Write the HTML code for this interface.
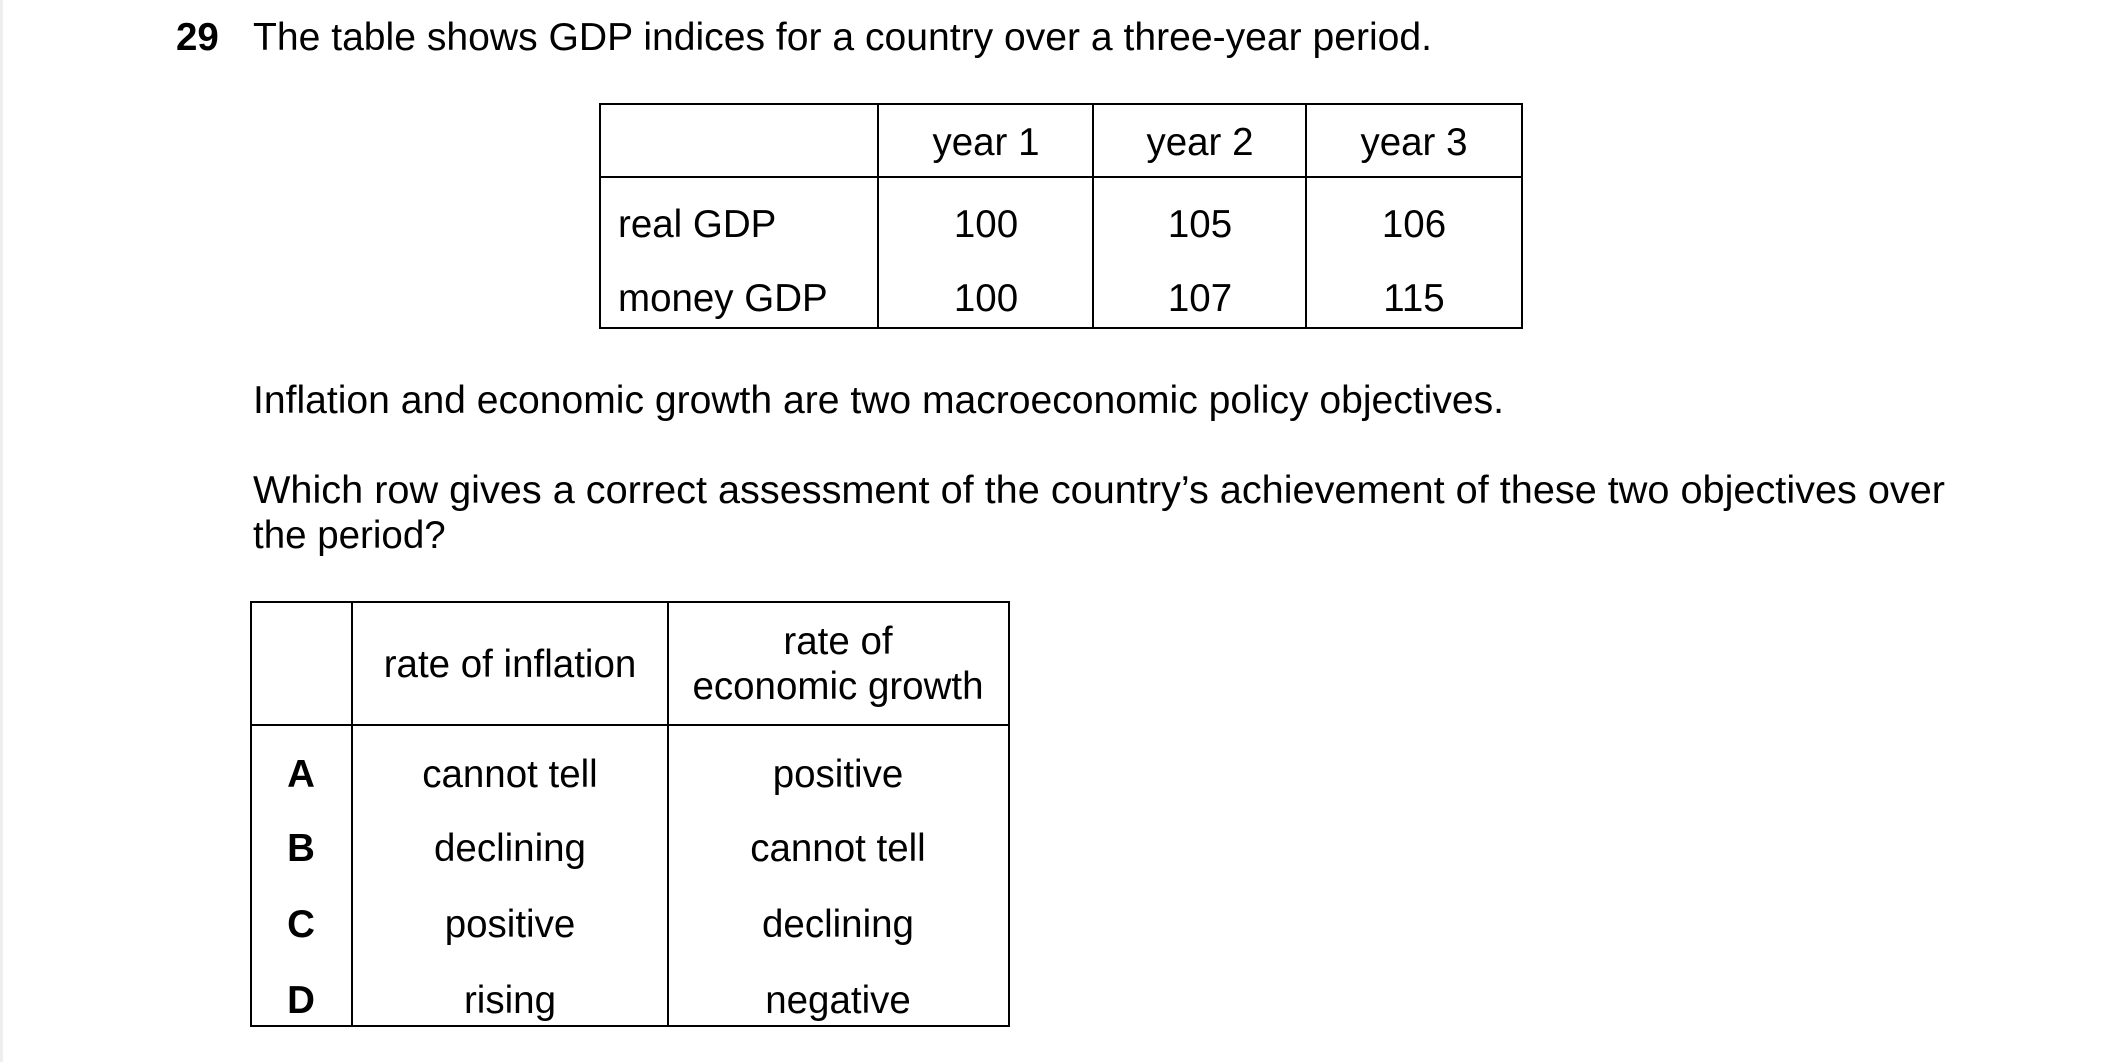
<!DOCTYPE html>
<html><head><meta charset="utf-8"><style>
html,body{margin:0;padding:0;background:#fff;}
svg{display:block}
text{font-family:"Liberation Sans",Arial,sans-serif;font-size:38.5px;fill:#000}
.c{text-anchor:middle}
.b{font-weight:bold}
</style></head><body>
<svg width="2116" height="1062" viewBox="0 0 2116 1062" xmlns="http://www.w3.org/2000/svg">
<rect x="0" y="0" width="3" height="1062" fill="#eeeeee"/>
<text x="176" y="50" class="b">29</text>
<text x="253" y="50" textLength="1179" lengthAdjust="spacingAndGlyphs">The table shows GDP indices for a country over a three-year period.</text>
<g stroke="#000" stroke-width="2" fill="none">
<rect x="600" y="104" width="922" height="224"/>
<line x1="600" y1="177" x2="1522" y2="177"/>
<line x1="878" y1="104" x2="878" y2="328"/>
<line x1="1093" y1="104" x2="1093" y2="328"/>
<line x1="1306" y1="104" x2="1306" y2="328"/>
</g>
<text x="986" y="155" class="c">year 1</text>
<text x="1200" y="155" class="c">year 2</text>
<text x="1414" y="155" class="c">year 3</text>
<text x="618" y="237">real GDP</text>
<text x="986" y="237" class="c">100</text>
<text x="1200" y="237" class="c">105</text>
<text x="1414" y="237" class="c">106</text>
<text x="618" y="311">money GDP</text>
<text x="986" y="311" class="c">100</text>
<text x="1200" y="311" class="c">107</text>
<text x="1414" y="311" class="c">115</text>
<text x="253" y="413" textLength="1251" lengthAdjust="spacingAndGlyphs">Inflation and economic growth are two macroeconomic policy objectives.</text>
<text x="253" y="503" textLength="1692" lengthAdjust="spacingAndGlyphs">Which row gives a correct assessment of the country’s achievement of these two objectives over</text>
<text x="253" y="548">the period?</text>
<g stroke="#000" stroke-width="2" fill="none">
<rect x="251" y="602" width="758" height="424"/>
<line x1="251" y1="725" x2="1009" y2="725"/>
<line x1="352" y1="602" x2="352" y2="1026"/>
<line x1="668" y1="602" x2="668" y2="1026"/>
</g>
<text x="510" y="677" class="c">rate of inflation</text>
<text x="838" y="654" class="c">rate of</text>
<text x="838" y="699" class="c">economic growth</text>
<text x="301" y="787" class="c b">A</text>
<text x="301" y="861" class="c b">B</text>
<text x="301" y="937" class="c b">C</text>
<text x="301" y="1013" class="c b">D</text>
<text x="510" y="787" class="c">cannot tell</text>
<text x="510" y="861" class="c">declining</text>
<text x="510" y="937" class="c">positive</text>
<text x="510" y="1013" class="c">rising</text>
<text x="838" y="787" class="c">positive</text>
<text x="838" y="861" class="c">cannot tell</text>
<text x="838" y="937" class="c">declining</text>
<text x="838" y="1013" class="c">negative</text>
</svg>
</body></html>
